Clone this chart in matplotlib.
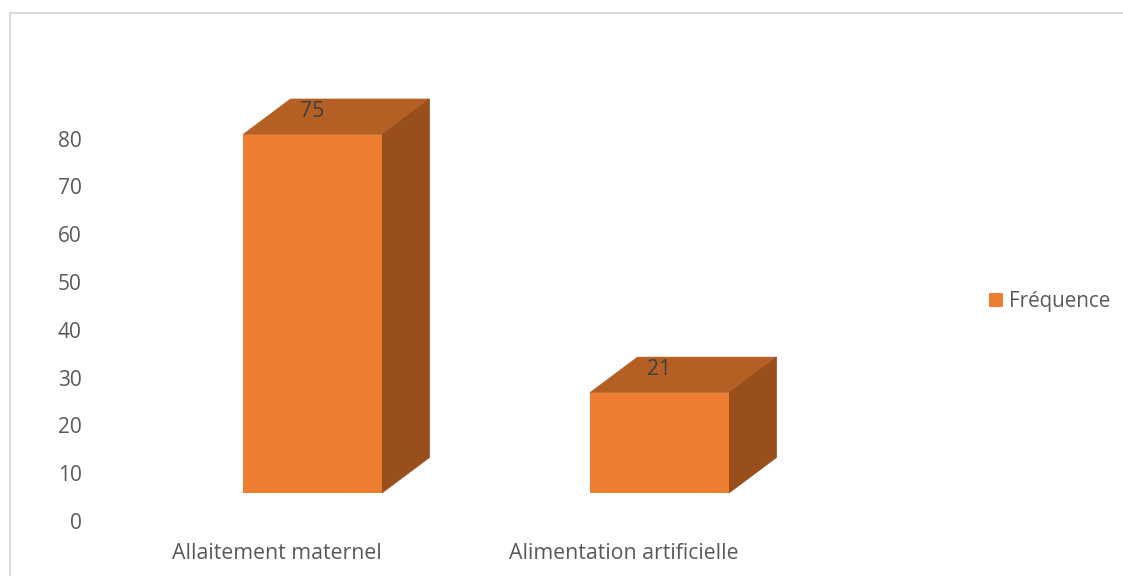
import matplotlib
matplotlib.use('Agg')
import matplotlib.pyplot as plt
from matplotlib.lines import Line2D
from matplotlib.patches import Patch

categories = ['Allaitement maternel', 'Alimentation artificielle']
frequences = [75, 21]
y_ticks = [0, 10, 20, 30, 40, 50, 60, 70, 80]
series_name = 'Fréquence'

W, H = 1123, 576
FRONT = '#ED7D31'
TOP = '#B45F24'
SIDE = '#984F1B'
TEXT = '#595959'

# pixel layout of the plot area
left_px, right_px = 90, 960
zero_px, top_px = 521, 60
px_per_unit = 4.78
px_per_cat = 347

plt.rcParams['font.family'] = ['Open Sans', 'DejaVu Sans']

fig = plt.figure(figsize=(W / 100, H / 100), dpi=100)
ax = fig.add_axes([left_px / W, 1 - zero_px / H, (right_px - left_px) / W, (zero_px - top_px) / H])
ax.set_ylim(0, (zero_px - top_px) / px_per_unit)
x0 = (left_px - 312.5) / px_per_cat
ax.set_xlim(x0, x0 + (right_px - left_px) / px_per_cat)

# 3D look: the floor lifts the bars, depth goes up and to the right
floor = 28 / px_per_unit
bar_w = 139 / px_per_cat
dx = 47.5 / px_per_cat
dy = 35.5 / px_per_unit

for i, v in enumerate(frequences):
    xl, xr = i - bar_w / 2, i + bar_w / 2
    top = floor + v
    ax.fill([xl, xl + dx, xr + dx, xr], [top, top + dy, top + dy, top], color=TOP, lw=0.5, zorder=2)
    ax.fill([xr, xr + dx, xr + dx, xr], [floor, floor + dy, top + dy, top], color=SIDE, lw=0.5, zorder=2)
    ax.bar(i, v, bottom=floor, width=bar_w, color=FRONT, zorder=3)
    ax.annotate(str(v), (i, top), xytext=(-0.3, 23 * 0.72), textcoords='offset points',
                ha='center', va='center', fontsize=15.2, color='#404040', zorder=4)

ax.set_yticks(y_ticks)
ax.set_xticks([i - 35.5 / px_per_cat for i in range(len(categories))])
ax.set_xticklabels(categories)
ax.tick_params(axis='y', length=0, pad=6, labelsize=15, labelcolor=TEXT)
ax.tick_params(axis='x', length=0, pad=16, labelsize=15.3, labelcolor=TEXT)
for s in ax.spines.values():
    s.set_visible(False)
ax.patch.set_visible(False)

handle = Patch(facecolor=FRONT, edgecolor='none')
leg = fig.legend([handle], [series_name], loc='center left', bbox_to_anchor=(989 / W, 1 - 302 / H),
                 frameon=False, fontsize=14.9, labelcolor=TEXT, handlelength=0.66, handleheight=0.66,
                 handletextpad=0.3, borderpad=0, borderaxespad=0)

# chart frame, only top and left show
frame = '#D9D9D9'
fig.add_artist(Line2D([10 / W, 10 / W], [0, 1 - 13 / H], color=frame, lw=1.5))
fig.add_artist(Line2D([10 / W, 1], [1 - 13 / H, 1 - 13 / H], color=frame, lw=1.5))

fig.savefig('out.png', dpi=100)
